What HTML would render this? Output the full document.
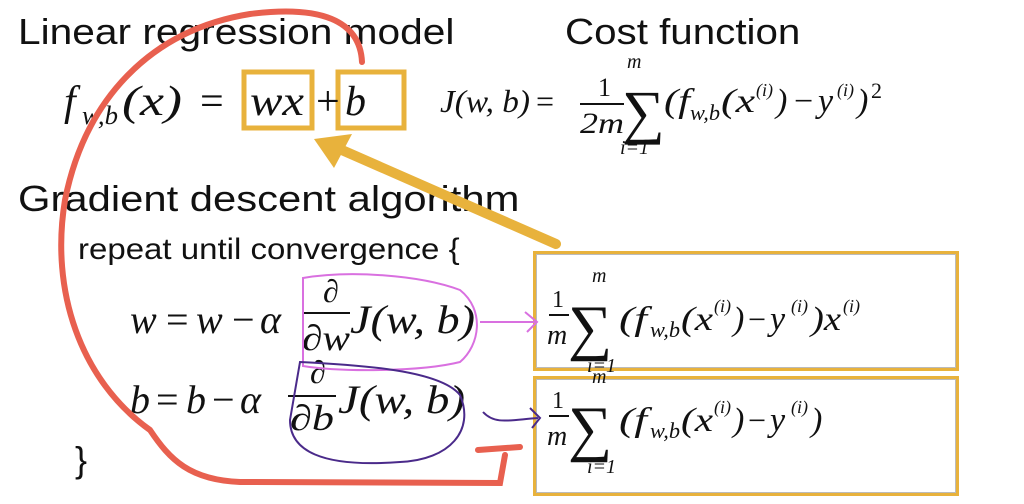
<!DOCTYPE html>
<html><head><meta charset="utf-8"><style>
body{margin:0;width:1024px;height:504px;background:#fff;overflow:hidden;position:relative;font-family:"Liberation Sans",sans-serif;color:#111}
.t{position:absolute;white-space:nowrap;line-height:1;transform-origin:left}
.box{position:absolute;border:3px solid #e8b23c;box-shadow:inset 0 0 0 1px #bbb}
</style></head><body>
<div class="t" style="left:18px;top:14px;font-size:36px;transform:scaleX(1.13)">Linear regression model</div>
<div class="t" style="left:565px;top:14px;font-size:36px;transform:scaleX(1.12)">Cost function</div>
<div class="t" style="left:18px;top:181px;font-size:36px;transform:scaleX(1.16)">Gradient descent algorithm</div>
<div class="t" style="left:78px;top:235px;font-size:30px;transform:scaleX(1.1)">repeat until convergence {</div>
<div class="t" style="left:75px;top:442px;font-size:36px">}</div>

<div class="box" style="left:533px;top:251px;width:420px;height:114px"></div>
<div class="box" style="left:533px;top:376px;width:420px;height:114px"></div>

<svg width="1024" height="504" style="position:absolute;left:0;top:0" font-family="Liberation Serif" font-style="italic" fill="#111">
<rect x="244" y="72" width="68" height="56" fill="none" stroke="#e8b23c" stroke-width="5"/>
<rect x="338" y="72" width="66" height="56" fill="none" stroke="#e8b23c" stroke-width="5"/>
<g font-size="42">
<text x="64" y="115">f</text><text x="82" y="124" font-size="26" textLength="36" lengthAdjust="spacingAndGlyphs">w,b</text>
<text x="122" y="115" textLength="60" lengthAdjust="spacingAndGlyphs">(x)</text>
<text x="200" y="115" font-style="normal">=</text>
<text x="250" y="115" textLength="54" lengthAdjust="spacingAndGlyphs">wx</text>
<text x="316" y="115" font-style="normal">+</text>
<text x="345" y="115">b</text>
</g>
<text x="440" y="112" font-size="32" textLength="90" lengthAdjust="spacingAndGlyphs">J(w, b)</text>
<text x="536" y="112" font-size="32" font-style="normal">=</text>
<text x="598" y="96" font-size="26" font-style="normal">1</text>
<line x1="580" y1="104" x2="624" y2="104" stroke="#111" stroke-width="2"/>
<text x="580" y="133" font-size="30" textLength="44" lengthAdjust="spacingAndGlyphs">2m</text>
<text x="622" y="132" font-size="60" font-style="normal">∑</text>
<text x="627" y="68" font-size="20">m</text><text x="620" y="154" font-size="20">i=1</text>
<text x="664" y="112" font-size="34" textLength="26" lengthAdjust="spacingAndGlyphs">(f</text><text x="690" y="120" font-size="22" textLength="30" lengthAdjust="spacingAndGlyphs">w,b</text>
<text x="721" y="112" font-size="34" textLength="34" lengthAdjust="spacingAndGlyphs">(x</text><text x="756" y="96" font-size="18">(i)</text>
<text x="776" y="112" font-size="34">)</text><text x="794" y="112" font-size="34" font-style="normal">−</text><text x="818" y="112" font-size="34">y</text><text x="837" y="96" font-size="18">(i)</text>
<text x="857" y="112" font-size="34">)</text><text x="871" y="98" font-size="22" font-style="normal">2</text>

<g font-size="40">
<text x="130" y="333">w</text><text x="166" y="333" font-style="normal">=</text><text x="196" y="333">w</text><text x="232" y="333" font-style="normal">−</text><text x="260" y="333">α</text>
<text x="323" y="302" font-size="32">∂</text>
<line x1="302" y1="313" x2="350" y2="313" stroke="#111" stroke-width="2"/>
<text x="302" y="350" font-size="36" textLength="48" lengthAdjust="spacingAndGlyphs">∂w</text>
<text x="350" y="333" textLength="125" lengthAdjust="spacingAndGlyphs">J(w, b)</text>
<text x="130" y="413">b</text><text x="156" y="413" font-style="normal">=</text><text x="186" y="413">b</text><text x="212" y="413" font-style="normal">−</text><text x="240" y="413">α</text>
<text x="310" y="383" font-size="32">∂</text>
<line x1="288" y1="396" x2="336" y2="396" stroke="#111" stroke-width="2"/>
<text x="290" y="430" font-size="36" textLength="44" lengthAdjust="spacingAndGlyphs">∂b</text>
<text x="338" y="413" textLength="127" lengthAdjust="spacingAndGlyphs">J(w, b)</text>
</g>

<g>
<text x="552" y="307" font-size="24" font-style="normal">1</text>
<line x1="549" y1="315" x2="569" y2="315" stroke="#111" stroke-width="2"/>
<text x="547" y="344" font-size="28">m</text>
<text x="568" y="348" font-size="62" font-style="normal">∑</text>
<text x="592" y="282" font-size="20">m</text><text x="587" y="372" font-size="20">i=1</text>
<text x="619" y="330" font-size="34" textLength="28" lengthAdjust="spacingAndGlyphs">(f</text><text x="650" y="337" font-size="22" textLength="30" lengthAdjust="spacingAndGlyphs">w,b</text>
<text x="681" y="330" font-size="34" textLength="32" lengthAdjust="spacingAndGlyphs">(x</text><text x="714" y="312" font-size="18">(i)</text>
<text x="733" y="330" font-size="34">)</text><text x="748" y="330" font-size="32" font-style="normal">−</text><text x="770" y="330" font-size="34">y</text><text x="791" y="312" font-size="18">(i)</text>
<text x="811" y="330" font-size="34" textLength="30" lengthAdjust="spacingAndGlyphs">)x</text><text x="843" y="312" font-size="18">(i)</text>
</g>
<g transform="translate(0,101)">
<text x="552" y="307" font-size="24" font-style="normal">1</text>
<line x1="549" y1="315" x2="569" y2="315" stroke="#111" stroke-width="2"/>
<text x="547" y="344" font-size="28">m</text>
<text x="568" y="348" font-size="62" font-style="normal">∑</text>
<text x="592" y="282" font-size="20">m</text><text x="587" y="372" font-size="20">i=1</text>
<text x="619" y="330" font-size="34" textLength="28" lengthAdjust="spacingAndGlyphs">(f</text><text x="650" y="337" font-size="22" textLength="30" lengthAdjust="spacingAndGlyphs">w,b</text>
<text x="681" y="330" font-size="34" textLength="32" lengthAdjust="spacingAndGlyphs">(x</text><text x="714" y="312" font-size="18">(i)</text>
<text x="733" y="330" font-size="34">)</text><text x="748" y="330" font-size="32" font-style="normal">−</text><text x="770" y="330" font-size="34">y</text><text x="791" y="312" font-size="18">(i)</text>
<text x="811" y="330" font-size="34">)</text>
</g>

<path d="M303 278 C350 270 420 275 460 290 C485 310 480 345 460 362 C420 372 340 372 303 366 Z" fill="none" stroke="#d970e0" stroke-width="2"/>
<path d="M480 322 L535 322 M525 312 L537 322 L527 332" fill="none" stroke="#d970e0" stroke-width="2"/>
<path d="M300 362 C360 365 440 370 460 395 C475 430 450 460 400 462 C320 468 290 450 290 420 Z" fill="none" stroke="#4a2a8a" stroke-width="2"/>
<path d="M483 412 C495 425 510 420 538 418 M530 408 L540 418 L532 428" fill="none" stroke="#4a2a8a" stroke-width="2"/>

<path d="M362 62 C360 20 320 5 250 14 C150 30 85 100 65 200 C50 290 80 380 150 430 C170 460 190 480 240 482 L500 483 L505 455 M478 450 L520 447" fill="none" stroke="#e8604f" stroke-width="6" stroke-linecap="round"/>
<path d="M556 244 L335 147" stroke="#e8b23c" stroke-width="10" stroke-linecap="round"/>
<path d="M314 139 L352 134 L334 168 Z" fill="#e8b23c"/>
</svg>
</body></html>
